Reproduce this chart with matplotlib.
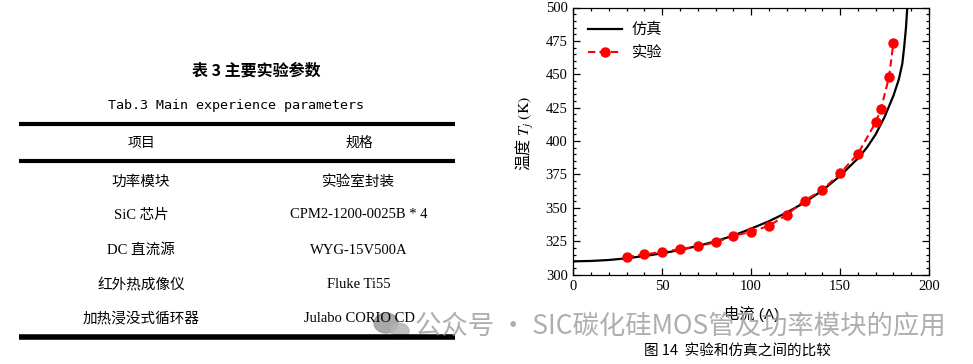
import matplotlib
matplotlib.use("Agg")
import matplotlib.pyplot as plt
from matplotlib.patches import Ellipse
from matplotlib.ticker import MultipleLocator

plt.rcParams['mathtext.fontset'] = 'stix'

# ---------------- data ----------------
sim_current = [0, 10, 20, 30, 40, 50, 60, 70, 80, 90, 100, 110, 120, 130, 140,
               150, 160, 165, 170, 175, 180, 183, 185, 186, 187, 187.8, 188.2]
sim_temp = [310, 310.3, 311, 312.3, 314, 316, 318.5, 321.5, 325, 329.3, 334.5,
            340, 346.5, 354, 363, 374, 387, 395, 405, 418, 434, 446, 458, 470,
            484, 500, 512]

exp_current = [30, 40, 50, 60, 70, 80, 90, 100, 110, 120, 130, 140, 150, 160,
               170, 173, 177.5, 180]
exp_temp = [313.2, 315.2, 317, 319.2, 321.2, 324.2, 329.1, 332.1, 336.6, 344.8,
            355.5, 363.5, 375.8, 390.5, 414, 424.2, 447.7, 473.7]

legend_labels = ['仿真', '实验']
x_label = '电流 (A)'
y_label = r'温度 $T_j$ $\mathrm{(K)}$'
caption = '图 14  实验和仿真之间的比较'

table_title_cn = '表 3 主要实验参数'
table_title_en = 'Tab.3 Main experience parameters'
table_header = ['项目', '规格']
table_items = ['功率模块', 'SiC 芯片', 'DC 直流源', '红外热成像仪', '加热浸没式循环器']
table_specs = ['实验室封装', 'CPM2-1200-0025B * 4', 'WYG-15V500A', 'Fluke Ti55', 'Julabo CORIO CD']

watermark = '公众号 · SIC碳化硅MOS管及功率模块的应用'

CJK = 'Noto Sans CJK SC'

# ---------------- figure ----------------
W, H = 973, 364
fig = plt.figure(figsize=(W / 100, H / 100), dpi=100)
fig.patch.set_facecolor('white')

# chart axes
l, r, t, b = 573.3, 929, 7.5, 274.7
ax = fig.add_axes([l / W, 1 - b / H, (r - l) / W, (b - t) / H])
ax.plot(sim_current, sim_temp, color='black', lw=1.6, label=legend_labels[0], zorder=3)
ax.plot(exp_current, exp_temp, color='#ff0000', lw=1.5, ls=(0, (3.5, 2)),
        marker='o', ms=6.5, label=legend_labels[1], zorder=4)
ax.set_xlim(0, 200)
ax.set_ylim(300, 500)
ax.xaxis.set_major_locator(MultipleLocator(50))
ax.xaxis.set_minor_locator(MultipleLocator(10))
ax.yaxis.set_major_locator(MultipleLocator(25))
ax.yaxis.set_minor_locator(MultipleLocator(5))
ax.tick_params(which='both', direction='in', top=True, right=True, width=0.9)
ax.tick_params(which='major', length=5, labelsize=10.5, pad=4)
ax.tick_params(which='minor', length=2.5)
for lab in ax.get_xticklabels() + ax.get_yticklabels():
    lab.set_family('Liberation Serif')
for s in ax.spines.values():
    s.set_linewidth(0.9)
ax.set_xlabel(x_label, family=['Liberation Sans', CJK], fontsize=11, labelpad=9)
ax.set_ylabel(y_label, family=CJK, fontsize=11.5, labelpad=5)
ax.yaxis.set_label_coords(-0.105, 0.53)
leg = ax.legend(loc='upper left', frameon=False, prop={'family': CJK, 'size': 11},
                handlelength=2.2, handletextpad=0.65, borderaxespad=0.3,
                labelspacing=0.45, bbox_to_anchor=(0.012, 0.99))

# overlay for table and captions (pixel coordinates)
ov = fig.add_axes([0, 0, 1, 1], zorder=5)
ov.set_xlim(0, W)
ov.set_ylim(H, 0)
ov.axis('off')
ov.patch.set_alpha(0)

ov.text(256, 71, table_title_cn, family=CJK, fontsize=11.5, ha='center', va='center',
        weight='bold')
ov.text(236, 105, table_title_en, family='DejaVu Sans Mono', fontsize=9.6,
        ha='center', va='center')
ov.plot([19, 455], [123.6, 123.6], color='black', lw=3.0, solid_capstyle='butt')
ov.plot([19, 455], [161.3, 161.3], color='black', lw=3.0, solid_capstyle='butt')
ov.plot([19, 455], [337, 337], color='black', lw=4.0, solid_capstyle='butt')

col_x = [141, 359]
ov.text(col_x[0], 143, table_header[0], family=CJK, fontsize=10, ha='center', va='center')
ov.text(col_x[1], 143, table_header[1], family=CJK, fontsize=10, ha='center', va='center')
row_y = [182, 215, 250, 285, 318.5]
for y, it, sp in zip(row_y, table_items, table_specs):
    ov.text(col_x[0], y, it, family=['Liberation Serif', CJK], fontsize=10.5,
            ha='center', va='center')
    ov.text(col_x[1], y, sp, family=['Liberation Serif', CJK], fontsize=10.5,
            ha='center', va='center')

ov.text(737.5, 352, caption, family=CJK, fontsize=10.5, ha='center', va='center')

# watermark
ov.add_patch(Ellipse((386, 323), 24, 20, color='#9a9a9a', alpha=0.85))
ov.add_patch(Ellipse((400, 331), 18, 15, color='#b5b5b5', alpha=0.85))
ov.text(415, 326, watermark, family=CJK, fontsize=19, color='#9a9a9a', alpha=0.8,
        ha='left', va='center')

fig.savefig('out.png', dpi=100)
